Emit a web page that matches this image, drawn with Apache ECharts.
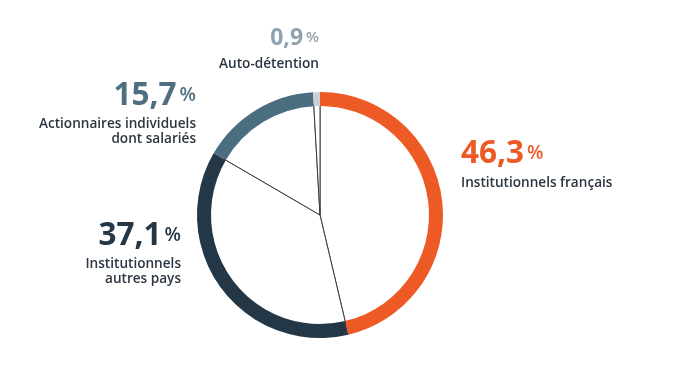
<!DOCTYPE html>
<html><head><meta charset="utf-8">
<script src="https://cdn.jsdelivr.net/npm/echarts@6/dist/echarts.min.js"></script>
<style>html,body{margin:0;padding:0;background:#fff}#c{width:685px;height:367px}</style>
</head><body><div id="c"></div>
<script>
const categories = ['Institutionnels français', 'Institutionnels\nautres pays', 'Actionnaires individuels\ndont salariés', 'Auto-détention'];
const values = [46.3, 37.1, 15.7, 0.9];
const valueLabels = ['46,3', '37,1', '15,7', '0,9'];
const ringColors = ['#EE5A25', '#243746', '#4B6D80', '#C9D1D6'];
const valueColors = ['#EE5A25', '#243746', '#4F6E80', '#8FA2AE'];

// label layout: [x, yValue, yText, align, valueFont, pctFont]
const labelPos = [
  [461, 154, 183, 'left', 31.5, 19],
  [181, 236, 272, 'right', 31.5, 19],
  [196, 96, 132, 'right', 31.5, 19],
  [319, 38, 64, 'right', 23, 15]
];

const chart = echarts.init(document.getElementById('c'), null, {renderer: 'canvas'});
const data = categories.map((c, i) => ({name: c, value: values[i]}));
const graphics = [];
labelPos.forEach((p, i) => {
  graphics.push({
    type: 'text', x: p[0], y: p[1], silent: true,
    style: {
      text: '{v|' + valueLabels[i] + '}{p|%}',
      textAlign: p[3], textVerticalAlign: 'middle',
      rich: {
        v: {fontFamily: 'Open Sans', fontWeight: 'bold', fontSize: p[4], fill: valueColors[i]},
        p: {fontFamily: 'Open Sans', fontWeight: 600, fontSize: p[5], fill: valueColors[i], padding: [0, 0, 0, 3]}
      }
    }
  });
  graphics.push({
    type: 'text', x: p[0], y: p[2], silent: true,
    style: {
      text: categories[i], textAlign: p[3], textVerticalAlign: 'middle',
      fontFamily: 'Open Sans', fontWeight: 600, fontSize: 13.6, lineHeight: 15, fill: '#2B3641'
    }
  });
});

chart.setOption({
  animation: false,
  series: [
    {
      type: 'pie', silent: true, center: [320, 215], radius: [0, 111], startAngle: 90, clockwise: true,
      label: {show: false}, labelLine: {show: false}, z: 1,
      itemStyle: {color: '#ffffff', borderColor: '#3a3a3a', borderWidth: 1},
      data: data
    },
    {
      type: 'pie', silent: true, center: [320, 215], radius: [109, 123], startAngle: 90, clockwise: true,
      label: {show: false}, labelLine: {show: false}, z: 2,
      itemStyle: {borderWidth: 0},
      data: data.map((d, i) => ({name: d.name, value: d.value, itemStyle: {color: ringColors[i]}}))
    }
  ],
  graphic: graphics
});
</script></body></html>
